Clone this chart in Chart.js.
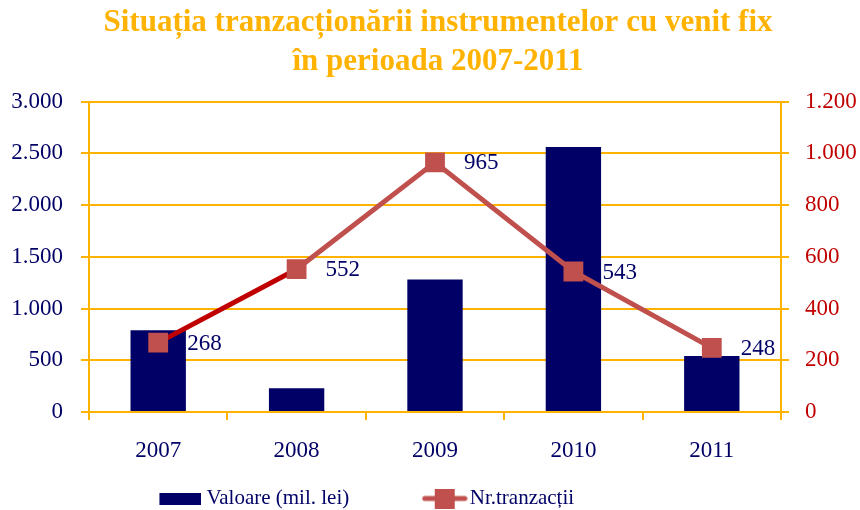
<!DOCTYPE html>
<html>
<head>
<meta charset="utf-8">
<script src="https://cdn.jsdelivr.net/npm/chart.js@4"></script>
<style>
  html, body { margin: 0; padding: 0; background: #fff; }
  #wrap { width: 860px; height: 510px; }
</style>
</head>
<body>
<div id="wrap"><canvas id="tranzChart" width="860" height="510"></canvas></div>
<script>
const years = ['2007', '2008', '2009', '2010', '2011'];
const valoare = [790, 230, 1280, 2560, 540];
const tranzactii = [268, 552, 965, 543, 248];
const leftTicks = [0, 500, 1000, 1500, 2000, 2500, 3000];
const rightTicks = [0, 200, 400, 600, 800, 1000, 1200];

const navy = '#000066';
const gold = '#FFB300';
const red = '#C0504D';
const darkRed = '#C00000';
const serif = "'Liberation Serif', 'DejaVu Serif', serif";

// number format like 3.000
const fmt = (v) => v.toLocaleString('de-DE');

// legend swatches: wide canvases, visible part on the right side
const boxW = 100;
const barSwatch = document.createElement('canvas');
barSwatch.width = boxW + 11; barSwatch.height = 12;
let sctx = barSwatch.getContext('2d');
sctx.fillStyle = navy;
sctx.fillRect(barSwatch.width - 42, 0, 42, 12);

const lineSwatch = document.createElement('canvas');
lineSwatch.width = boxW + 17; lineSwatch.height = 20;
sctx = lineSwatch.getContext('2d');
const lx = lineSwatch.width - 46;
sctx.strokeStyle = red;
sctx.lineWidth = 5;
sctx.lineCap = 'round';
sctx.beginPath();
sctx.moveTo(lx + 3, 10); sctx.lineTo(lx + 43, 10);
sctx.stroke();
sctx.fillStyle = red;
sctx.fillRect(lx + 13, 0, 20, 20);

const pointLabels = {
    id: 'pointLabels',
    afterDatasetsDraw(chart) {
        const meta = chart.getDatasetMeta(0);
        const c = chart.ctx;
        c.save();
        c.font = '23px ' + serif;
        c.fillStyle = navy;
        c.textBaseline = 'middle';
        c.textAlign = 'left';
        meta.data.forEach((pt, i) => {
            c.fillText(String(tranzactii[i]), pt.x + 29, pt.y + 1);
        });
        c.restore();
    }
};

const shiftLegend = {
    id: 'shiftLegend',
    afterLayout(chart) {
        chart.legend.left -= 103;
        chart.legend.right -= 103;
    }
};

const ctx = document.getElementById('tranzChart').getContext('2d');
const chart = new Chart(ctx, {
    data: {
        labels: years,
        datasets: [{
            type: 'line',
            label: 'Nr.tranzacții',
            data: tranzactii,
            yAxisID: 'y1',
            borderColor: red,
            borderWidth: 5,
            backgroundColor: red,
            pointStyle: 'rect',
            pointRadius: 14,
            pointHoverRadius: 14,
            pointBackgroundColor: red,
            pointBorderWidth: 0,
            tension: 0,
            order: 0,
            segment: {
                borderColor: (c) => c.p0DataIndex === 0 ? darkRed : red
            }
        }, {
            type: 'bar',
            label: 'Valoare (mil. lei)',
            data: valoare,
            yAxisID: 'y',
            backgroundColor: navy,
            borderWidth: 0,
            barPercentage: 0.4,
            categoryPercentage: 1,
            order: 1
        }]
    },
    options: {
        responsive: false,
        animation: false,
        layout: { padding: { top: 4, bottom: -9, left: 0, right: -16 } },
        scales: {
            x: {
                offset: true,
                afterFit: (s) => { s.height = 66; },
                grid: {
                    offset: true,
                    drawOnChartArea: false,
                    drawTicks: true,
                    tickLength: 8,
                    color: gold,
                    lineWidth: 2
                },
                border: { color: gold, width: 2 },
                ticks: {
                    color: navy,
                    font: { family: serif, size: 23 },
                    padding: 17
                }
            },
            y: {
                position: 'left',
                min: 0,
                max: 3000,
                afterBuildTicks: (s) => { s.ticks = leftTicks.map(v => ({ value: v })); },
                afterFit: (s) => { s.width = 89; },
                grid: {
                    color: gold,
                    lineWidth: 2,
                    tickLength: 8
                },
                border: { color: gold, width: 2 },
                ticks: {
                    color: navy,
                    font: { family: serif, size: 23 },
                    padding: 18,
                    callback: (v) => fmt(v)
                }
            },
            y1: {
                position: 'right',
                min: 0,
                max: 1200,
                afterBuildTicks: (s) => { s.ticks = rightTicks.map(v => ({ value: v })); },
                afterFit: (s) => { s.width = 95; },
                grid: {
                    drawOnChartArea: false,
                    color: gold,
                    lineWidth: 2,
                    tickLength: 8
                },
                border: { color: gold, width: 2 },
                ticks: {
                    color: darkRed,
                    font: { family: serif, size: 23 },
                    padding: 16,
                    callback: (v) => fmt(v)
                }
            }
        },
        plugins: {
            title: {
                display: true,
                text: ['Situația tranzacționării instrumentelor cu venit fix', 'în perioada 2007-2011'],
                color: gold,
                font: { family: serif, size: 31, weight: 'bold', lineHeight: 1.25 },
                padding: { top: 0, bottom: 20 }
            },
            legend: {
                position: 'bottom',
                reverse: true,
                labels: {
                    color: navy,
                    font: { family: serif, size: 21 },
                    usePointStyle: true,
                    pointStyleWidth: boxW,
                    padding: 10,
                    generateLabels: (chart) => chart.data.datasets.map((ds, i) => ({
                        text: ds.label,
                        pointStyle: ds.type === 'bar' ? barSwatch : lineSwatch,
                        fontColor: navy,
                        lineWidth: 0,
                        strokeStyle: 'transparent',
                        fillStyle: 'transparent',
                        datasetIndex: i
                    }))
                }
            },
            tooltip: { enabled: false }
        }
    },
    plugins: [pointLabels, shiftLegend]
});
</script>
</body>
</html>
